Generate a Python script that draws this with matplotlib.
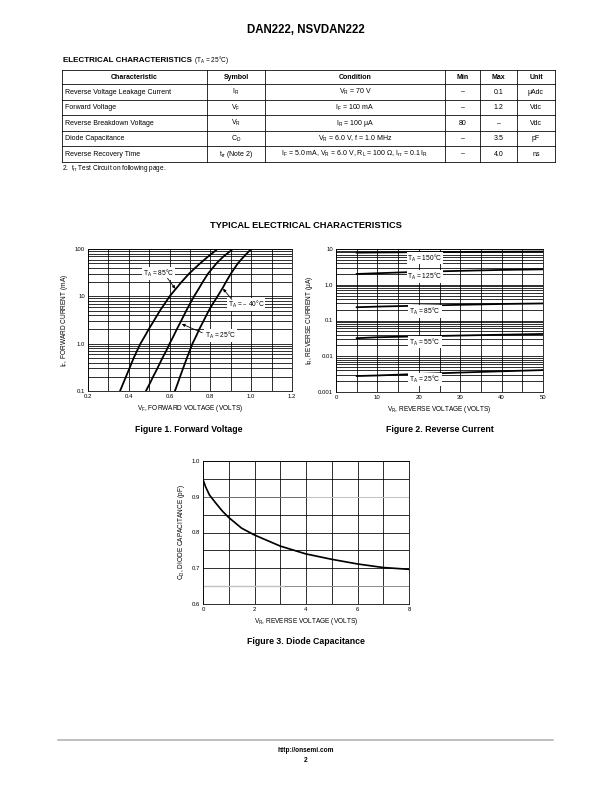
import numpy as np
import matplotlib
matplotlib.use("Agg")
import matplotlib.pyplot as plt
from matplotlib.ticker import FixedLocator, NullFormatter, MultipleLocator

plt.rcParams['font.family'] = ['Liberation Sans', 'DejaVu Sans']
plt.rcParams['mathtext.default'] = 'regular'

# ---- table data ----
col_heads = ['Characteristic', 'Symbol', 'Condition', 'Min', 'Max', 'Unit']
characteristic = ['Reverse Voltage Leakage Current', 'Forward Voltage',
                  'Reverse Breakdown Voltage', 'Diode Capacitance', 'Reverse Recovery Time']
symbol = ['I$_R$', 'V$_F$', 'V$_R$', 'C$_D$', 't$_{rr}$ (Note 2)']
condition = ['V$_R$ = 70 V', 'I$_F$ = 100 mA', 'I$_R$ = 100 μA', 'V$_R$ = 6.0 V, f = 1.0 MHz',
             'I$_F$ = 5.0 mA, V$_R$ = 6.0 V, R$_L$ = 100 Ω, I$_{rr}$ = 0.1 I$_R$']
min_val = ['–', '–', '80', '–', '–']
max_val = ['0.1', '1.2', '–', '3.5', '4.0']
unit = ['μAdc', 'Vdc', 'Vdc', 'pF', 'ns']

# ---- Figure 1: forward voltage ----
if_ma = [0.1, 0.15, 0.2, 0.3, 0.5, 0.7, 1, 1.5, 2, 3, 5, 7, 10, 15, 20, 30, 50, 70, 100]
vf_85 = [0.357, 0.374, 0.386, 0.403, 0.424, 0.44, 0.457, 0.481, 0.497, 0.522,
         0.553, 0.576, 0.60, 0.634, 0.658, 0.695, 0.75, 0.79, 0.835]
vf_25 = [0.484, 0.505, 0.519, 0.54, 0.565, 0.583, 0.60, 0.621, 0.635, 0.656,
         0.682, 0.70, 0.72, 0.745, 0.762, 0.788, 0.83, 0.865, 0.91]
vf_m40 = [0.626, 0.641, 0.651, 0.666, 0.685, 0.698, 0.712, 0.732, 0.745, 0.766,
          0.792, 0.812, 0.835, 0.86, 0.876, 0.90, 0.935, 0.965, 1.0]

# ---- Figure 2: reverse current ----
vr = [5, 10, 20, 30, 40, 50]
ir_150 = [7.9, 8.0, 8.15, 8.3, 8.4, 8.5]
ir_125 = [2.0, 2.1, 2.3, 2.45, 2.6, 2.7]
ir_85 = [0.235, 0.245, 0.26, 0.275, 0.29, 0.30]
ir_55 = [0.032, 0.034, 0.036, 0.038, 0.040, 0.042]
ir_25 = [0.0028, 0.0029, 0.0032, 0.0035, 0.0038, 0.0041]

# ---- Figure 3: diode capacitance ----
vr_c = [0, 0.1, 0.25, 0.5, 0.75, 1, 1.5, 2, 3, 4, 5, 6, 7, 8]
cd = [0.948, 0.928, 0.905, 0.882, 0.86, 0.842, 0.812, 0.793, 0.762, 0.740, 0.725, 0.712, 0.702, 0.697]

W, H = 612, 792
fig = plt.figure(figsize=(W / 72, H / 72), dpi=72)
page = fig.add_axes([0, 0, 1, 1])
page.set_xlim(0, W)
page.set_ylim(H, 0)
page.axis('off')


def rect(x0, y0, x1, y1):
    return [x0 / W, 1 - y1 / H, (x1 - x0) / W, (y1 - y0) / H]


# header
page.text(306, 30, 'DAN222, NSVDAN222', ha='center', va='center', fontsize=11.5, fontweight='bold')
t = page.text(63, 60, 'ELECTRICAL CHARACTERISTICS ', ha='left', va='center', fontsize=8, fontweight='bold')
r = fig.canvas.get_renderer()
bb = t.get_window_extent(r)
page.text(bb.x1, H - 60, '(T$_A$ = 25°C)', ha='left', va='center', fontsize=6.5,
          transform=None)

# table
cols = [62, 207, 265, 445, 480, 517, 555]
rows = [70, 84, 99.5, 115, 130.5, 146, 161.5]
for y in rows:
    page.plot([cols[0], cols[-1]], [y, y], color='black', lw=0.8)
for x in cols:
    page.plot([x, x], [rows[0], rows[-1]], color='black', lw=0.8)
for i, h in enumerate(col_heads):
    page.text((cols[i] + cols[i + 1]) / 2, (rows[0] + rows[1]) / 2 + 0.5, h, ha='center', va='center',
              fontsize=7, fontweight='bold')
for k in range(5):
    yc = (rows[k + 1] + rows[k + 2]) / 2 + 0.5
    page.text(cols[0] + 3, yc, characteristic[k], ha='left', va='center', fontsize=7)
    for i, vals in enumerate([symbol, condition, min_val, max_val, unit]):
        page.text((cols[i + 1] + cols[i + 2]) / 2, yc, vals[k], ha='center', va='center', fontsize=7)
page.text(62, 169, '2.  t$_{rr}$ Test Circuit on following page.', ha='left', va='center', fontsize=6.5)

page.text(306, 226, 'TYPICAL ELECTRICAL CHARACTERISTICS', ha='center', va='center',
          fontsize=9.2, fontweight='bold')


def style(ax):
    ax.tick_params(which='both', length=0, labelsize=6, pad=3)
    ax.grid(which='both', color='black', lw=0.8)
    for s in ax.spines.values():
        s.set_linewidth(0.8)
    ax.set_axisbelow(True)


box = dict(facecolor='white', edgecolor='none', pad=0.8)
lab_fs = 6.6

# Figure 1
ax1 = fig.add_axes(rect(88, 249, 292, 391))
for v in (vf_85, vf_25, vf_m40):
    ax1.plot(v, if_ma, color='black', lw=1.8)
ax1.set_yscale('log')
ax1.set_xlim(0.2, 1.2)
ax1.set_ylim(0.1, 100)
ax1.set_xticks([0.2, 0.4, 0.6, 0.8, 1.0, 1.2])
ax1.set_xticklabels(['0.2', '0.4', '0.6', '0.8', '1.0', '1.2'])
ax1.xaxis.set_minor_locator(MultipleLocator(0.1))
ax1.set_yticks([0.1, 1, 10, 100])
ax1.set_yticklabels(['0.1', '1.0', '10', '100'])
ax1.yaxis.set_minor_locator(FixedLocator([m * 10.0 ** e for e in range(-1, 2) for m in range(2, 10)]))
ax1.yaxis.set_minor_formatter(NullFormatter())
style(ax1)
ax1.set_xlabel('V$_F$, FORWARD VOLTAGE (VOLTS)', fontsize=6.5, labelpad=4)
ax1.set_ylabel('I$_F$, FORWARD CURRENT (mA)', fontsize=6.5, labelpad=5)
ax1.text(0.545, 30, 'T$_A$ = 85°C', ha='center', va='center', fontsize=lab_fs, bbox=box)
ax1.text(0.975, 6.8, 'T$_A$ = – 40°C', ha='center', va='center', fontsize=lab_fs, bbox=box)
ax1.text(0.85, 1.5, 'T$_A$ = 25°C', ha='center', va='center', fontsize=lab_fs, bbox=box)
arr = dict(arrowstyle='-|>', color='black', lw=0.8, mutation_scale=6, shrinkA=0, shrinkB=0)
ax1.annotate('', xy=(0.628, 14.5), xytext=(0.59, 24), arrowprops=arr)
ax1.annotate('', xy=(0.862, 14.5), xytext=(0.905, 8.6), arrowprops=arr)
ax1.annotate('', xy=(0.66, 2.6), xytext=(0.76, 1.7), arrowprops=arr)
fig.text(189 / W, 1 - 430 / H, 'Figure 1. Forward Voltage', ha='center', va='center',
         fontsize=8.8, fontweight='bold')

# Figure 2
ax2 = fig.add_axes(rect(336, 249, 543, 392))
for c in (ir_150, ir_125, ir_85, ir_55, ir_25):
    ax2.plot(vr, c, color='black', lw=1.8)
ax2.set_yscale('log')
ax2.set_xlim(0, 50)
ax2.set_ylim(0.001, 10)
ax2.set_xticks([0, 10, 20, 30, 40, 50])
ax2.xaxis.set_minor_locator(MultipleLocator(5))
ax2.set_yticks([0.001, 0.01, 0.1, 1, 10])
ax2.set_yticklabels(['0.001', '0.01', '0.1', '1.0', '10'])
ax2.yaxis.set_minor_locator(FixedLocator([m * 10.0 ** e for e in range(-3, 1) for m in range(2, 10)]))
ax2.yaxis.set_minor_formatter(NullFormatter())
style(ax2)
ax2.set_xlabel('V$_R$, REVERSE VOLTAGE (VOLTS)', fontsize=6.5, labelpad=4)
ax2.set_ylabel('I$_R$, REVERSE CURRENT (μA)', fontsize=6.5, labelpad=3)
for lab, yv in [('150', 5.6), ('125', 1.73), ('85', 0.18), ('55', 0.025), ('25', 0.0022)]:
    ax2.text(21.5, yv, 'T$_A$ = ' + lab + '°C', ha='center', va='center', fontsize=lab_fs, bbox=box)
fig.text(440 / W, 1 - 430 / H, 'Figure 2. Reverse Current', ha='center', va='center',
         fontsize=8.8, fontweight='bold')

# Figure 3
ax3 = fig.add_axes(rect(203, 461, 409, 604))
ax3.hlines(0.9, 0, 4, color='#808080', lw=0.8, zorder=1.5)
ax3.hlines(0.9, 4, 8, color='#c0c0c0', lw=1.0, zorder=1.5)
ax3.hlines(0.65, 0, 3.2, color='#c0c0c0', lw=1.4, zorder=1.5)
ax3.hlines(0.65, 3.2, 8, color='#909090', lw=1.0, zorder=1.5)
ax3.plot(vr_c, cd, color='black', lw=1.7)
ax3.set_xlim(0, 8)
ax3.set_ylim(0.6, 1.0)
ax3.set_xticks([0, 2, 4, 6, 8])
ax3.xaxis.set_minor_locator(MultipleLocator(1))
ax3.set_yticks([0.6, 0.7, 0.8, 0.9, 1.0])
ax3.set_yticklabels(['0.6', '0.7', '0.8', '0.9', '1.0'])
ax3.yaxis.set_minor_locator(FixedLocator([0.65, 0.75, 0.85, 0.95]))
style(ax3)
ax3.yaxis.grid(which='minor', color='black', lw=0.8)
ax3.set_xlabel('V$_R$, REVERSE VOLTAGE (VOLTS)', fontsize=6.5, labelpad=4)
ax3.set_ylabel('C$_D$, DIODE CAPACITANCE (pF)', fontsize=6.5, labelpad=5)
fig.text(306 / W, 1 - 641 / H, 'Figure 3. Diode Capacitance', ha='center', va='center',
         fontsize=8.8, fontweight='bold')

# footer
page.plot([58, 553], [740, 740], color='#aaaaaa', lw=1.5)
page.text(306, 751, 'http://onsemi.com', ha='center', va='center', fontsize=6.5, fontweight='bold')
page.text(306, 760, '2', ha='center', va='center', fontsize=6.5, fontweight='bold')

fig.savefig('out.png', dpi=72)
